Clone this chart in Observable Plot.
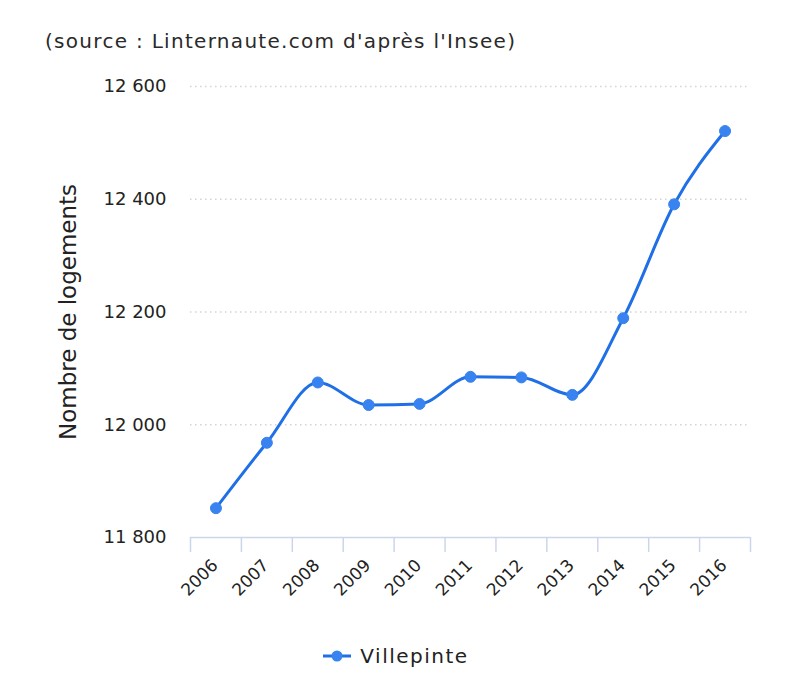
<!DOCTYPE html>
<html>
<head>
<meta charset="utf-8">
<script src="https://cdn.jsdelivr.net/npm/d3@7"></script>
<script src="https://cdn.jsdelivr.net/npm/@observablehq/plot@0.6"></script>
<style>
  html, body { margin: 0; padding: 0; background: #fff; }
  body { width: 800px; height: 692px; overflow: hidden; font-family: "DejaVu Sans", sans-serif; color: #333; }
  #source { box-sizing: border-box; height: 60px; padding: 29px 0 0 45px; font-size: 20px; line-height: 24px; color: #2a2a2a; letter-spacing: 1.3px; white-space: nowrap; }
  #chart svg { display: block; }
  #legend { height: 72px; display: flex; justify-content: center; align-items: flex-start; padding-top: 24px; box-sizing: border-box; }
  #legend .item { display: flex; align-items: center; gap: 9px; font-size: 20px; color: #222; letter-spacing: 1.5px; margin-left: -8px; }
</style>
</head>
<body>
<div id="source">(source : Linternaute.com d'après l'Insee)</div>
<div id="chart"></div>
<div id="legend"></div>
<script>
const years = [2006, 2007, 2008, 2009, 2010, 2011, 2012, 2013, 2014, 2015, 2016];
const logements = [11852, 11968, 12075, 12035, 12037, 12085, 12084, 12053, 12189, 12391, 12521];
const yTicks = [11800, 12000, 12200, 12400, 12600];
const gridTicks = [12000, 12200, 12400, 12600];
const seriesName = "Villepinte";
const yTitle = "Nombre de logements";

const lineColor = "#1f6fe6";
const dotColor = "#3883ef";

const data = years.map((y, i) => ({year: y, value: logements[i]}));
const boundaries = years.map(y => y - 0.5).concat([years[years.length - 1] + 0.5]);
const fr = d3.formatLocale({decimal: ",", thousands: " ", grouping: [3], currency: ["", " €"]}).format(",");

const chart = Plot.plot({
  width: 800,
  height: 560,
  marginLeft: 190,
  marginRight: 50,
  marginTop: 26,
  marginBottom: 83,
  style: {fontFamily: "DejaVu Sans, sans-serif", color: "#333", background: "#fff"},
  x: {type: "linear", domain: [boundaries[0], boundaries[boundaries.length - 1]]},
  y: {domain: [11800, 12600]},
  marks: [
    Plot.gridY(gridTicks, {stroke: "#d4d4d4", strokeOpacity: 1, strokeWidth: 1.5, strokeDasharray: "1.5,3.5"}),
    Plot.axisY({ticks: yTicks, tickSize: 0, tickPadding: 24, tickFormat: fr, fontSize: 18, label: null, fill: "#222", style: {letterSpacing: "1.6px"}}),
    Plot.ruleY([11800], {stroke: "#ccd6eb", strokeWidth: 1.5}),
    Plot.axisX({ticks: boundaries, tickSize: 15, tickFormat: () => "", stroke: "#ccd6eb", strokeWidth: 1.5, strokeOpacity: 1, label: null}),
    Plot.axisX({ticks: years, tickSize: 0, tickPadding: 25, tickRotate: -45, tickFormat: d => String(d), fontSize: 17, label: null, fill: "#222", dx: -1, style: {letterSpacing: "0.6px"}}),
    Plot.text([yTitle], {frameAnchor: "left", textAnchor: "middle", rotate: -90, dx: -122, fontSize: 23, fill: "#222", style: {letterSpacing: "2px"}}),
    Plot.line(data, {x: "year", y: "value", curve: "monotone-x", stroke: lineColor, strokeWidth: 3}),
    Plot.dot(data, {x: "year", y: "value", r: 5.5, fill: dotColor, stroke: dotColor, strokeWidth: 1})
  ]
});
document.getElementById("chart").appendChild(chart);

const legend = document.getElementById("legend");
legend.innerHTML = `<div class="item"><svg width="28" height="14"><line x1="0" y1="7" x2="28" y2="7" stroke="${lineColor}" stroke-width="3"/><circle cx="14" cy="7" r="5.5" fill="${dotColor}"/></svg><span>${seriesName}</span></div>`;
</script>
</body>
</html>
